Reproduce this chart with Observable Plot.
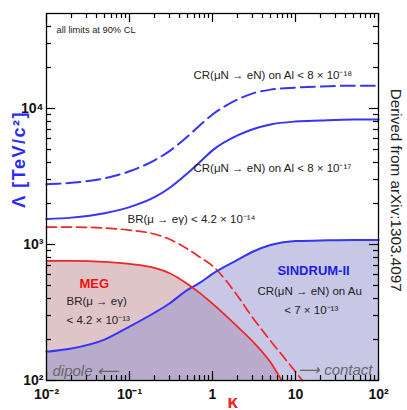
<!DOCTYPE html>
<html><head><meta charset="utf-8">
<script src="https://cdn.jsdelivr.net/npm/d3@7"></script>
<script src="https://cdn.jsdelivr.net/npm/@observablehq/plot@0.6"></script>
<style>
body{margin:0;background:#fff;}
#chart{width:407px;height:410px;overflow:hidden;}
</style></head><body><div id="chart"></div>
<script>
// kappa grid shared by the CR curves
const kappa = [0.01,0.02,0.05,0.1,0.2,0.3,0.5,0.7,1,2,3,5,10,20,50,100];
// CR(muN->eN) on Al < 8e-17 (solid blue)
const alE17 = [1538,1577,1701,1883,2228,2594,3340,4021,4924,6342,7019,7636,8030,8170,8300,8300];
// CR(muN->eN) on Al < 8e-18 (dashed blue)
const alE18 = [2775,2846,3070,3455,4159,4842,6235,7508,9036,11640,12880,13776,14250,14495,14740,14740];
// SINDRUM-II CR on Au < 7e-13 (solid blue, shaded)
const sindrum = [163,172,200,249,315,367,464,522,608,770,881,991,1061,1070,1079,1079];
// MEG BR < 4.2e-13 (solid red, shaded)
const megKappa = [0.01,0.02,0.05,0.1,0.2,0.3,0.5,0.7,1,2,3,5,6.8];
const meg = [757,757,745,720,673,618,513,441,367,249,196,136,100];
// BR < 4.2e-14 (dashed red)
const megFutKappa = [0.01,0.02,0.05,0.1,0.2,0.3,0.5,0.7,1,2,3,5,10,12.1];
const megFut = [1343,1343,1321,1277,1194,1097,927,810,696,420,294,196,116,100];
// axes and ticks
const xDomain = [0.01, 100];
const yDomain = [100, 50000];
const xMajor = [0.01,0.1,1,10,100];
const xMajorLabels = ["10⁻²","10⁻¹","1","10","10²"];
const xMinor = [2,3,4,5,6,7,8,9].flatMap(m => [0.01,0.1,1,10].map(d => m*d));
const yMajor = [100,1000,10000];
const yLabelVals = [100,1000,10000,50000];
const yLabels = ["10²","10³","10⁴","5×10⁴"];
const yMinor = [2,3,4,5,6,7,8,9].flatMap(m => [100,1000].map(d => m*d)).concat([20000,30000,40000]);

const rows = (ks, vs) => ks.map((k,i) => ({k, v: vs[i]}));
const W = 407, H = 410, mL = 46, mR = 29, mT = 13, mB = 30;
const blue = "#3535f5", red = "#f02525";
const font = "'Liberation Sans', Arial, Helvetica, sans-serif";

const ann = (txt, k, v, o) => Plot.text([txt], {x: () => k, y: () => v, text: d => d, fontSize: 11.5, fill: "#222", ...o});

const plot = Plot.plot({
  width: W, height: H,
  marginLeft: mL, marginRight: mR, marginTop: mT, marginBottom: mB,
  x: {type: "log", domain: xDomain},
  y: {type: "log", domain: yDomain},
  style: {fontFamily: font, background: "#fff", overflow: "visible"},
  marks: [
    Plot.areaY(rows(megKappa, meg), {x: "k", y1: 100, y2: "v", fill: "#e0c5c8", curve: "monotone-x"}),
    Plot.areaY(rows(kappa, sindrum), {x: "k", y1: 100, y2: "v", fill: "#9191cd", fillOpacity: 0.5, curve: "monotone-x"}),
    Plot.line(rows(kappa, alE18), {x: "k", y: "v", stroke: blue, strokeWidth: 2, strokeDasharray: "14,6", curve: "monotone-x"}),
    Plot.line(rows(kappa, alE17), {x: "k", y: "v", stroke: blue, strokeWidth: 2, curve: "monotone-x"}),
    Plot.line(rows(megFutKappa, megFut), {x: "k", y: "v", stroke: red, strokeWidth: 1.7, strokeDasharray: "10,5", curve: "monotone-x"}),
    Plot.line(rows(kappa, sindrum), {x: "k", y: "v", stroke: blue, strokeWidth: 2, curve: "monotone-x"}),
    Plot.line(rows(megKappa, meg), {x: "k", y: "v", stroke: red, strokeWidth: 1.7, curve: "monotone-x"}),
    Plot.frame({stroke: "#000", strokeWidth: 1.3}),
    Plot.axisX(xMajor, {tickSize: 0, tickPadding: 9, tickFormat: d => xMajorLabels[xMajor.indexOf(d)], fontSize: 14, fontWeight: "bold", fill: "#111", label: null}),
    Plot.axisY(yLabelVals, {tickSize: 0, tickPadding: 3, tickFormat: d => yLabels[yLabelVals.indexOf(d)], fontSize: 14, fontWeight: "bold", fill: "#111", label: null}),
    ann("all limits at 90% CL", 0.0132, 37900, {textAnchor: "start", fontSize: 9.3}),
    ann("CR(μN → eN) on Al < 8 × 10⁻¹⁸", 0.59, 17700, {textAnchor: "start"}),
    ann("CR(μN → eN) on Al < 8 × 10⁻¹⁷", 0.59, 3630, {textAnchor: "start"}),
    ann("BR(μ → eγ) < 4.2 × 10⁻¹⁴", 0.0946, 1538, {textAnchor: "start"}),
    ann("MEG", 0.025, 514, {textAnchor: "start", fontSize: 13, fontWeight: "bold", fill: "#f01010"}),
    ann("BR(μ → eγ)", 0.0174, 385, {textAnchor: "start"}),
    ann("< 4.2 × 10⁻¹³", 0.0174, 275, {textAnchor: "start"}),
    ann("SINDRUM-II", 16.5, 640, {fontSize: 13, fontWeight: "bold", fill: "#1c1ce0"}),
    ann("CR(μN → eN) on Au", 14.8, 449, {}),
    ann("< 7 × 10⁻¹³", 15.5, 331, {}),
    ann("dipole ⟵", 0.0118, 118, {textAnchor: "start", fontSize: 15, fontStyle: "italic", fill: "#666"}),
    ann("⟶ contact", 84.7, 120, {textAnchor: "end", fontSize: 15, fontStyle: "italic", fill: "#666"}),
    Plot.text(["Λ [TeV/c²]"], {frameAnchor: "left", y: () => 4230, dx: -27, rotate: -90, textAnchor: "middle", text: d => d, fontSize: 18, fontWeight: "bold", fill: "#2a2aff"}),
    Plot.text(["Derived from arXiv:1303.4097"], {frameAnchor: "right", y: () => 2506, dx: 17, rotate: 90, textAnchor: "middle", text: d => d, fontSize: 15.3, fill: "#222"}),
    Plot.text(["κ"], {frameAnchor: "bottom", x: () => 1.74, dy: 27, text: d => d, fontSize: 19, fontWeight: "bold", fill: red})
  ]
});
d3.select(plot).selectAll("text").filter(function() { return this.textContent === "Λ [TeV/c²]"; }).style("letter-spacing", "1.5px");

// inward mirrored ticks on all four sides, placed with the plot's own scales
try {
  const sx = plot.scale("x"), sy = plot.scale("y");
  const X = v => sx.apply(v), Y = v => sy.apply(v);
  const svg = d3.select(plot.tagName.toLowerCase() === "svg" ? plot : plot.querySelector("svg"));
  const g = svg.append("g").attr("stroke", "#000").attr("stroke-width", 1.2).attr("fill", "none");
  const xt = [...xMajor.map(v => [v, 9]), ...xMinor.map(v => [v, 5])];
  const yt = [...yMajor.map(v => [v, 9]), ...yMinor.map(v => [v, 5])];
  const bottom = H - mB, top = mT, left = mL, right = W - mR;
  xt.forEach(([v, len]) => {
    const x = Math.round(X(v)) + 0.5;
    g.append("line").attr("x1", x).attr("x2", x).attr("y1", bottom).attr("y2", bottom - len);
    g.append("line").attr("x1", x).attr("x2", x).attr("y1", top).attr("y2", top + len);
  });
  yt.forEach(([v, len]) => {
    const y = Math.round(Y(v)) + 0.5;
    g.append("line").attr("y1", y).attr("y2", y).attr("x1", left).attr("x2", left + len);
    g.append("line").attr("y1", y).attr("y2", y).attr("x1", right).attr("x2", right - len);
  });
} catch (e) {}

document.getElementById("chart").appendChild(plot);
</script></body></html>
